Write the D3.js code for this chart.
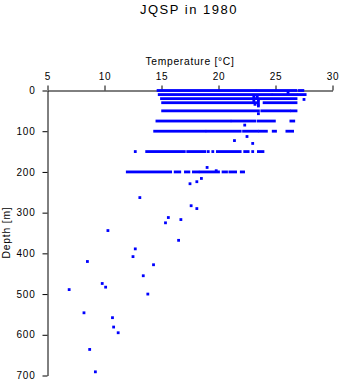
<!DOCTYPE html>
<html>
<head>
<meta charset="utf-8">
<script src="https://cdn.jsdelivr.net/npm/d3@7"></script>
<style>
html,body{margin:0;padding:0;background:#fff;}
svg{display:block;font-family:"Liberation Sans",Arial,Helvetica,sans-serif;}
</style>
</head>
<body>
<svg id="chart" width="341" height="384"></svg>
<script>
// ---- data ----
const titleText = "JQSP in 1980";
const xLabel = "Temperature [\u00B0C]";
const yLabel = "Depth [m]";
const xTicks = [5, 10, 15, 20, 25, 30];
const yTicks = [0, 100, 200, 300, 400, 500, 600, 700];

// dense runs of observations along standard depths: depth, start temperature, end temperature
const runDepth = [0, 0, 0, 10, 10, 10, 20, 30, 30, 50, 50, 50,
  75, 75, 75, 75, 100, 100, 100, 100, 100, 100,
  150, 150, 150, 150, 150, 150, 150, 150, 150,
  200, 200, 200, 200, 200, 200, 200, 200];
const runStart = [14.7, 23.4, 27.1, 14.8, 24.8, 27.0, 15.0, 15.1, 24.0, 15.1, 23.8, 26.4,
  14.6, 21.2, 23.5, 26.35, 14.4, 19.0, 22.2, 23.6, 24.8, 26.0,
  12.7, 13.7, 17.3, 19.1, 19.5, 19.9, 22.3, 23.0, 23.5,
  12.0, 16.2, 17.1, 17.8, 18.4, 20.4, 21.0, 22.0];
const runEnd = [23.2, 26.8, 27.4, 24.6, 26.8, 27.6, 26.8, 23.4, 26.8, 23.5, 26.2, 26.8,
  21.0, 23.2, 24.9, 26.6, 18.8, 21.9, 23.4, 24.2, 25.0, 26.5,
  12.7, 17.0, 18.8, 19.1, 19.5, 21.9, 22.6, 23.0, 23.9,
  15.8, 16.6, 17.4, 18.2, 20.0, 20.7, 21.5, 22.2];

// individual observations
const pointTemp = [26.1, 27.5, 23.1, 23.4, 23.1, 23.5, 23.1, 23.5, 23.2, 23.5, 23.5, 23.5,
  22.3, 22.5, 21.4, 23.0, 19.0, 19.8, 18.5, 18.1, 17.5, 13.1, 17.6, 18.1, 15.6, 16.7, 15.35,
  10.3, 16.5, 12.7, 12.5, 8.5, 14.3, 13.4, 9.8, 10.1, 6.9, 13.8, 8.2, 10.7, 10.8, 11.2, 8.7, 9.2];
const pointDepth = [5, 22, 13, 16, 19, 23, 26, 28, 34, 34, 38, 57,
  85, 113, 123, 130, 189, 197, 216, 224, 229, 263, 283, 290, 312, 317, 325,
  344, 368, 389, 408, 420, 428, 455, 474, 483, 489, 500, 546, 558, 581, 595, 636, 691];

// ---- drawing ----
const svg = d3.select("#chart");
const x = d3.scaleLinear().domain([5, 30]).range([47.5, 332.5]);
const y = d3.scaleLinear().domain([0, 700]).range([90.5, 375.5]);
const blue = "#0000ff";
const ms = 2.8;

svg.append("text")
  .attr("x", 189).attr("y", 14)
  .attr("text-anchor", "middle")
  .attr("font-size", 13).attr("letter-spacing", 1.5)
  .text(titleText);

svg.append("text")
  .attr("x", 190).attr("y", 64.5)
  .attr("text-anchor", "middle")
  .attr("font-size", 10.3).attr("letter-spacing", 0.7)
  .text(xLabel);

svg.append("text")
  .attr("transform", "translate(9.5,232.5) rotate(-90)")
  .attr("text-anchor", "middle")
  .attr("font-size", 10.3).attr("letter-spacing", 0.8)
  .text(yLabel);

const xAxis = svg.append("g").attr("transform", "translate(0,90.5)")
  .call(d3.axisTop(x).tickValues(xTicks).tickSize(5).tickSizeOuter(0).tickPadding(6));
const yAxis = svg.append("g").attr("transform", "translate(47.5,0)")
  .call(d3.axisLeft(y).tickValues(yTicks).tickSize(5).tickSizeOuter(0).tickPadding(7));
[xAxis, yAxis].forEach(a => {
  a.select(".domain").attr("stroke", "#000");
  a.selectAll(".tick line").attr("stroke", "#000");
  a.selectAll(".tick text").attr("font-size", 10).attr("fill", "#000")
    .attr("font-family", "'Liberation Sans',Arial,sans-serif").attr("letter-spacing", 0.8);
});

svg.append("g").selectAll("rect")
  .data(runDepth.map((d, i) => ({d, a: runStart[i], b: runEnd[i]})))
  .join("rect")
  .attr("x", r => x(r.a) - ms / 2)
  .attr("y", r => y(r.d) - ms / 2)
  .attr("width", r => x(r.b) - x(r.a) + ms)
  .attr("height", ms)
  .attr("fill", blue);

svg.append("g").selectAll("rect")
  .data(pointTemp.map((t, i) => ({t, d: pointDepth[i]})))
  .join("rect")
  .attr("x", p => x(p.t) - ms / 2)
  .attr("y", p => y(p.d) - ms / 2)
  .attr("width", ms).attr("height", ms)
  .attr("fill", blue);
</script>
</body>
</html>
